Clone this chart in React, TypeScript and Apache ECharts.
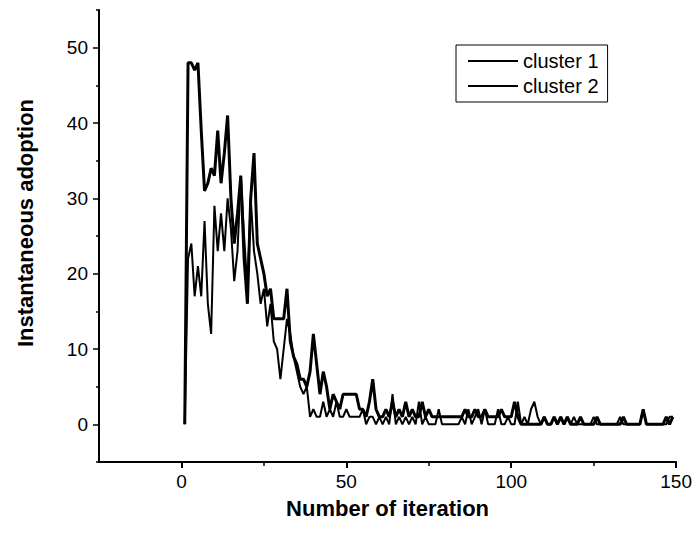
import React, { useEffect, useRef } from "react";
import * as echarts from "echarts";

const cluster1: number[] = [
  0, 48, 48, 47, 48, 39, 31, 32, 34, 33,
  39, 32, 36, 41, 30, 24, 28, 33, 22, 16,
  30, 36, 24, 22, 20, 17, 18, 14, 14, 14,
  14, 18, 11, 9, 8, 6, 6, 5, 7, 12,
  8, 4, 7, 5, 2, 4, 3, 2, 4, 4,
  4, 4, 4, 2, 2, 1, 3, 6, 2, 1,
  1, 2, 1, 3, 1, 2, 1, 3, 1, 2,
  1, 1, 3, 1, 2, 1, 1, 1, 1, 1,
  1, 1, 1, 1, 1, 2, 1, 1, 2, 1,
  1, 2, 1, 1, 1, 1, 2, 1, 1, 1,
  3, 1, 0, 0, 0, 0, 0, 0, 0, 1,
  0, 0, 1, 0, 1, 0, 1, 0, 0, 0,
  1, 0, 0, 0, 0, 1, 0, 0, 0, 0,
  0, 0, 0, 1, 0, 0, 0, 0, 0, 2,
  0, 0, 0, 0, 0, 0, 1, 0, 1,
];

const cluster2: number[] = [
  0, 22, 24, 17, 21, 17, 27, 16, 12, 29,
  23, 28, 23, 30, 26, 19, 23, 33, 25, 18,
  30, 23, 20, 16, 18, 13, 16, 11, 10, 6,
  10, 14, 12, 9, 7, 5, 4, 5, 1, 2,
  1, 1, 3, 1, 2, 1, 3, 1, 1, 2,
  1, 1, 1, 1, 2, 0, 1, 1, 0, 1,
  0, 1, 0, 4, 0, 1, 0, 1, 0, 1,
  0, 3, 0, 1, 0, 0, 0, 2, 0, 0,
  0, 0, 0, 0, 1, 0, 2, 0, 1, 2,
  0, 2, 0, 0, 0, 2, 0, 0, 1, 0,
  0, 3, 0, 1, 0, 2, 3, 1, 0, 1,
  0, 0, 1, 0, 1, 0, 1, 0, 1, 0,
  0, 0, 0, 0, 1, 0, 0, 0, 0, 0,
  0, 0, 1, 0, 0, 0, 0, 0, 0, 2,
  0, 0, 0, 0, 0, 0, 0, 1, 1,
];

const firstIteration = 1;
const xMajorTicks = [0, 50, 100, 150];
const xMinorTicks = [25, 75, 125];
const yMajorTicks = [0, 10, 20, 30, 40, 50];
const yMinorTicks = [-5, 5, 15, 25, 35, 45, 55];
const seriesNames = ["cluster 1", "cluster 2"];

const FONT = "Arial, 'Liberation Sans', sans-serif";

export default function App() {
  const ref = useRef<HTMLDivElement>(null);
  useEffect(() => {
    if (!ref.current) return;
    const chart = echarts.init(ref.current, null, { renderer: "svg" });
    const toPairs = (arr: number[]) => arr.map((v, i) => [firstIteration + i, v]);
    const labelStyle = { color: "#000", fontSize: 19, fontFamily: FONT };
    chart.setOption({
      animation: false,
      backgroundColor: "#fff",
      grid: { left: 99, top: 10, width: 578, height: 452, containLabel: false },
      legend: {
        left: 456,
        top: 45,
        orient: "vertical",
        itemWidth: 50,
        itemHeight: 14,
        itemGap: 5,
        padding: [6, 9, 6, 11],
        borderColor: "#000",
        borderWidth: 1,
        itemStyle: { opacity: 0 },
        textStyle: { color: "#000", fontSize: 20, fontFamily: FONT },
        data: seriesNames,
      },
      xAxis: [
        {
          type: "value",
          position: "bottom",
          min: -25,
          max: 150,
          name: "Number of iteration",
          nameLocation: "middle",
          nameGap: 35,
          nameTextStyle: { color: "#000", fontSize: 22, fontWeight: "bold", fontFamily: FONT },
          axisLine: { show: true, onZero: false, lineStyle: { color: "#000", width: 2 } },
          axisTick: { show: true, customValues: xMajorTicks, length: 6, inside: false, lineStyle: { color: "#000", width: 2 } },
          axisLabel: { show: true, customValues: xMajorTicks, margin: 10, ...labelStyle },
          splitLine: { show: false },
        },
        {
          type: "value",
          position: "bottom",
          offset: 0,
          min: -25,
          max: 150,
          axisLine: { show: false, onZero: false },
          axisTick: { show: true, customValues: xMinorTicks, length: 4, lineStyle: { color: "#000", width: 1.5 } },
          axisLabel: { show: false },
          splitLine: { show: false },
        },
      ],
      yAxis: [
        {
          type: "value",
          position: "left",
          min: -5,
          max: 55,
          name: "Instantaneous adoption",
          nameLocation: "middle",
          nameGap: 63,
          nameTextStyle: {
            color: "#000",
            fontSize: 22,
            fontWeight: "bold",
            fontFamily: FONT,
            padding: [0, 0, 0, 26],
          },
          axisLine: { show: true, onZero: false, lineStyle: { color: "#000", width: 2 } },
          axisTick: { show: true, customValues: yMajorTicks, length: 6, lineStyle: { color: "#000", width: 1.5 } },
          axisLabel: { show: true, customValues: yMajorTicks, margin: 11, ...labelStyle },
          splitLine: { show: false },
        },
        {
          type: "value",
          position: "left",
          offset: 0,
          min: -5,
          max: 55,
          axisLine: { show: false, onZero: false },
          axisTick: { show: true, customValues: yMinorTicks, length: 3, lineStyle: { color: "#000", width: 1.5 } },
          axisLabel: { show: false },
          splitLine: { show: false },
        },
      ],
      series: [
        {
          name: seriesNames[0],
          type: "line",
          xAxisIndex: 0,
          yAxisIndex: 0,
          data: toPairs(cluster1),
          symbol: "none",
          lineStyle: { color: "#000", width: 3 },
          itemStyle: { color: "#000" },
        },
        {
          name: seriesNames[1],
          type: "line",
          xAxisIndex: 0,
          yAxisIndex: 0,
          data: toPairs(cluster2),
          symbol: "none",
          lineStyle: { color: "#000", width: 2 },
          itemStyle: { color: "#000" },
        },
      ],
    });
    return () => chart.dispose();
  }, []);
  return (
    <div
      ref={ref}
      style={{ position: "fixed", left: 0, top: 0, width: 695, height: 536 }}
    />
  );
}
